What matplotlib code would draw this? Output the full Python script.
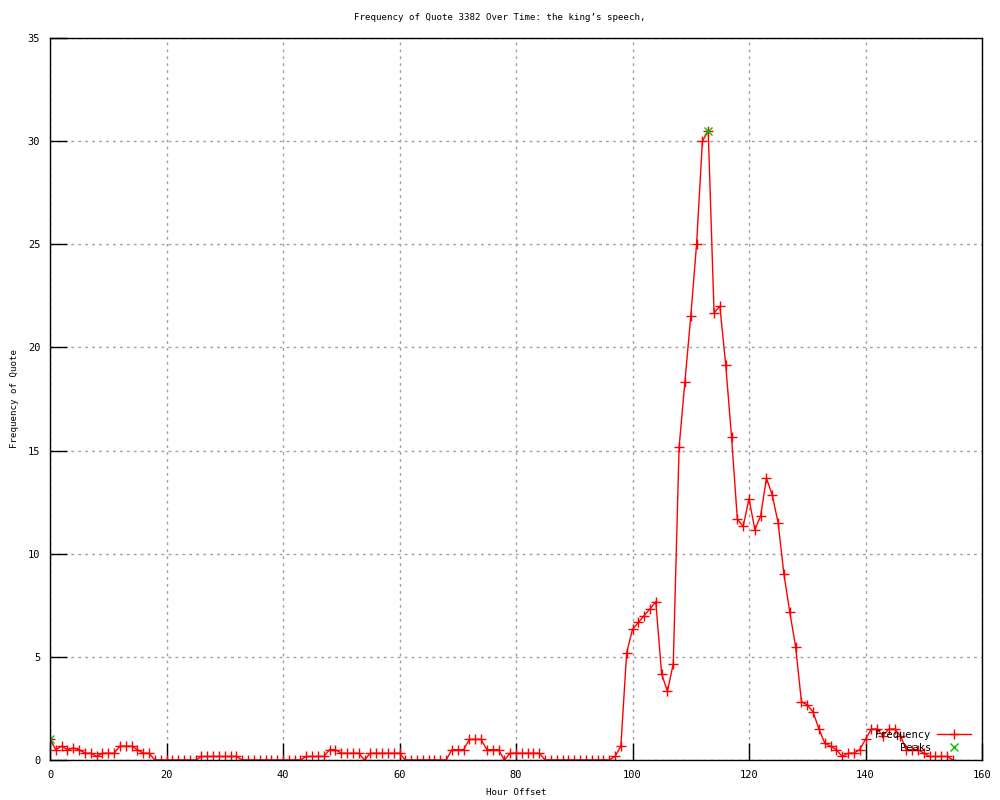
import numpy as np
from matplotlib import pyplot as plt

# quote frequency per hour offset
hours = list(range(156))
frequency = [
    1.0, 0.5, 0.67, 0.5, 0.58, 0.5, 0.33, 0.33, 0.17, 0.33,
    0.33, 0.33, 0.67, 0.67, 0.67, 0.5, 0.33, 0.33, 0, 0,
    0, 0, 0, 0, 0, 0, 0.17, 0.17, 0.17, 0.17,
    0.17, 0.17, 0.17, 0, 0, 0, 0, 0, 0, 0,
    0, 0, 0, 0, 0.17, 0.17, 0.17, 0.17, 0.5, 0.5,
    0.33, 0.33, 0.33, 0.33, 0, 0.33, 0.33, 0.33, 0.33, 0.33,
    0.33, 0, 0, 0, 0, 0, 0, 0, 0, 0.5,
    0.5, 0.5, 1.0, 1.0, 1.0, 0.5, 0.5, 0.5, 0, 0.33,
    0.33, 0.33, 0.33, 0.33, 0.33, 0, 0, 0, 0, 0,
    0, 0, 0, 0, 0, 0, 0, 0.17, 0.67, 5.2,
    6.33, 6.67, 7.0, 7.33, 7.67, 4.17, 3.33, 4.67, 15.17, 18.33,
    21.5, 25.0, 30.0, 30.5, 21.67, 22.0, 19.17, 15.67, 11.67, 11.33,
    12.67, 11.17, 11.83, 13.67, 12.83, 11.5, 9.0, 7.17, 5.5, 2.83,
    2.67, 2.33, 1.5, 0.83, 0.67, 0.5, 0.17, 0.33, 0.33, 0.5,
    1.0, 1.5, 1.5, 1.17, 1.5, 1.5, 1.17, 0.5, 0.5, 0.5,
    0.33, 0.17, 0.17, 0.17, 0.17, 0,
]
peak_hours = [0, 113]
peak_values = [1.0, 30.5]

x_ticks = [0, 20, 40, 60, 80, 100, 120, 140, 160]
y_ticks = [0, 5, 10, 15, 20, 25, 30, 35]

plt.rcParams['font.family'] = ['DejaVu Sans Mono']
plt.rcParams['font.size'] = 6.6

fig = plt.figure(figsize=(10, 8), dpi=100)
ax = fig.add_axes([0.05, 0.05, 0.932, 0.9025])

ax.plot(hours, frequency, color='red', linewidth=1, marker='+',
        markersize=7, markeredgewidth=1, label='Frequency')
ax.plot(peak_hours, peak_values, color='#00c000', linestyle='none',
        marker='x', markersize=6, markeredgewidth=1, label='Peaks')

ax.set_xlim(0, 160)
ax.set_ylim(0, 35)
ax.set_xticks(x_ticks)
ax.set_yticks(y_ticks)
ax.tick_params(direction='in', length=12, width=1, color='black', pad=7,
               labelsize=7.5)
ax.grid(True, color='#a0a0a0', linestyle=(0, (2, 3)), linewidth=1)
ax.set_axisbelow(True)
for s in ax.spines.values():
    s.set_linewidth(1)
    s.set_color('black')

fig.text(0.50, 1 - 18 / 800, "Frequency of Quote 3382 Over Time: the king\u2019s speech,",
         ha='center', va='center')
ax.set_xlabel('Hour Offset')
ax.set_ylabel('Frequency of Quote')
ax.xaxis.set_label_coords(0.5, -0.0457)
ax.yaxis.set_label_coords(-0.0386, 0.5)
ax.xaxis.label.set_va('center')
ax.yaxis.label.set_va('center')

ax.legend(loc='lower right', bbox_to_anchor=(0.996, 0.0), frameon=False,
          markerfirst=False, numpoints=1, handlelength=3.3,
          labelspacing=0.25, handletextpad=0.5, borderaxespad=0.3,
          fontsize=7.5)

fig.savefig('out.png', dpi=100)
